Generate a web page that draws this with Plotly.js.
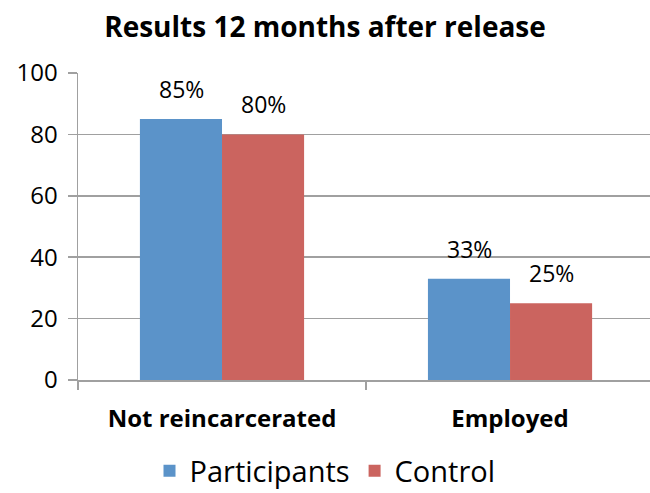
<!DOCTYPE html>
<html><head><meta charset="utf-8">
<script src="https://cdn.plot.ly/plotly-3.0.1.min.js"></script>
<style>html,body{margin:0;padding:0;background:#fff}</style>
</head><body>
<div id="chart" style="width:650px;height:493px"></div>
<script>
const categories = ["Not reincarcerated", "Employed"];
const participants = [85, 33];
const control = [80, 25];
const seriesNames = ["Participants", "Control"];
const yTicks = [0, 20, 40, 60, 80, 100];

const colors = ["#5b93c9", "#cb645f"];
const font = "'Open Sans', sans-serif";

const traces = [participants, control].map((vals, i) => ({
  type: "bar",
  name: seriesNames[i],
  x: categories,
  y: vals,
  marker: {color: colors[i]},
  hoverinfo: "none"
}));

const annotations = [];
[participants, control].forEach((vals, i) => {
  vals.forEach((v, j) => {
    annotations.push({
      x: categories[j], y: v, xref: "x", yref: "y",
      text: v + "%", showarrow: false,
      xanchor: "center", yanchor: "bottom",
      xshift: i === 0 ? -41 : 41, yshift: 12,
      font: {family: font, size: 23, color: "#000"}
    });
  });
});

const layout = {
  width: 650, height: 493,
  margin: {l: 78, r: 0, t: 73, b: 113},
  paper_bgcolor: "#fff", plot_bgcolor: "#fff",
  title: {text: "<b>Results 12 months after release</b>", x: 0.5, xanchor: "center",
          y: 0.945, yanchor: "middle",
          font: {family: font, size: 28, color: "#000"}},
  barmode: "group",
  bargap: 0.43, bargroupgap: 0,
  xaxis: {
    range: [-0.5, 1.486], automargin: false,
    showgrid: false, showline: true, linecolor: "#a0a0a0", linewidth: 1.5,
    ticks: "outside", tickson: "boundaries", ticklen: 8, tickcolor: "#a0a0a0", tickwidth: 1.5,
    tickfont: {family: font, size: 24, color: "#000"},
    tickvals: categories, ticktext: categories.map(c => "<b>" + c + "</b>"),
    ticklabelstandoff: 17
  },
  yaxis: {
    range: [0, 100], tickvals: yTicks, automargin: false,
    showgrid: true, gridcolor: "#a0a0a0", gridwidth: 1.5,
    showline: true, linecolor: "#a0a0a0", linewidth: 1.5,
    ticks: "outside", ticklen: 9, tickcolor: "#a0a0a0", tickwidth: 1.5,
    tickfont: {family: font, size: 24, color: "#000"},
    zeroline: false, ticklabelstandoff: 5
  },
  showlegend: true,
  legend: {orientation: "h", xref: "container", x: 0.5, xanchor: "center",
           yref: "container", y: 0.045, yanchor: "middle",
           font: {family: font, size: 29, color: "#000"}, itemwidth: 30},
  annotations: annotations
};

Plotly.newPlot("chart", traces, layout, {staticPlot: true});
</script>
</body></html>
